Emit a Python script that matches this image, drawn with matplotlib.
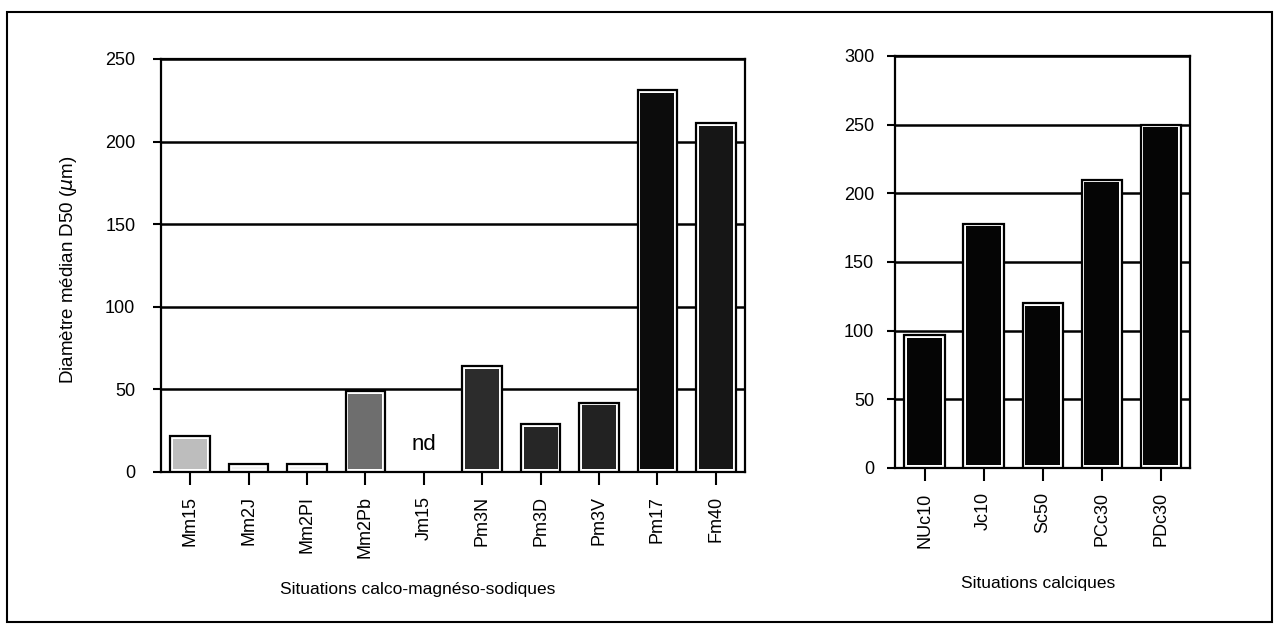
import matplotlib
matplotlib.use('Agg')
import matplotlib.pyplot as plt
from matplotlib.patches import Rectangle
import numpy as np

# données
sites_cms = ['Mm15', 'Mm2J', 'Mm2PI', 'Mm2Pb', 'Jm15', 'Pm3N', 'Pm3D', 'Pm3V', 'Pm17', 'Fm40']
d50_cms = [22, 5, 5, 49, 0, 64, 29, 42, 231, 211]
sites_ca = ['NUc10', 'Jc10', 'Sc50', 'PCc30', 'PDc30']
d50_ca = [97, 178, 120, 210, 250]

# niveaux de gris (aspect pointillé de l'original)
gris_cms = ['#bdbdbd', '#f2f2f2', '#f2f2f2', '#6e6e6e', '#ffffff',
            '#2c2c2c', '#262626', '#222222', '#0c0c0c', '#161616']
gris_ca = ['#050505'] * 5

plt.rcParams['font.family'] = ['Liberation Sans', 'DejaVu Sans']
plt.rcParams['font.size'] = 12

fig = plt.figure(figsize=(12.79, 6.32), dpi=100)

# cadre extérieur
fig.add_artist(Rectangle((7 / 1279, 1 - 622 / 632), 1265 / 1279, 610 / 632,
                         transform=fig.transFigure, fill=False, lw=1.5, ec='black'))

ax1 = fig.add_axes([0.1259, 0.2532, 0.4566, 0.6535])
ax2 = fig.add_axes([0.6998, 0.2595, 0.2307, 0.6520])


def trace(ax, noms, valeurs, couleurs, ymax, pas, ypad):
    x = np.arange(len(noms))
    vals = np.array(valeurs, dtype=float)
    ax.set_xlim(-0.5, len(noms) - 0.5)
    ax.set_ylim(0, ymax)
    ax.set_yticks(np.arange(0, ymax + 1, pas))
    ax.yaxis.grid(True, color='black', lw=1.8)
    ax.set_axisbelow(True)
    # contour noir, liseré blanc, remplissage
    mask = vals > 0
    ax.bar(x[mask], vals[mask], width=0.68, color='white', edgecolor='black', lw=1.6, zorder=3)
    pad = ymax * 0.007
    ax.bar(x[mask], vals[mask] - 2 * pad, bottom=pad, width=0.58,
           color=[c for c, m in zip(couleurs, mask) if m], lw=0, zorder=4)
    ax.set_xticks(x)
    ax.set_xticklabels(noms, rotation=90, fontsize=13)
    ax.tick_params(axis='x', length=9.5, width=1.5, pad=8)
    ax.tick_params(axis='y', length=6, width=1.5, labelsize=13, pad=ypad)
    for s in ax.spines.values():
        s.set_linewidth(1.6)


trace(ax1, sites_cms, d50_cms, gris_cms, 250, 50, 12.5)
trace(ax2, sites_ca, d50_ca, gris_ca, 300, 50, 9)

ax1.text(4, 10, 'nd', ha='center', va='bottom', fontsize=16)

ax1.set_xlabel('Situations calco-magnéso-sodiques', fontsize=12.5)
ax1.xaxis.set_label_coords(0.44, -0.266)
ax2.set_xlabel('Situations calciques', fontsize=12.5)
ax2.xaxis.set_label_coords(0.485, -0.263)
ax1.set_ylabel('Diamètre médian D50 ($\\mu$m)', fontsize=13.5)
ax1.yaxis.set_label_coords(-0.141, 0.49)

plt.savefig('out.png', dpi=100)
